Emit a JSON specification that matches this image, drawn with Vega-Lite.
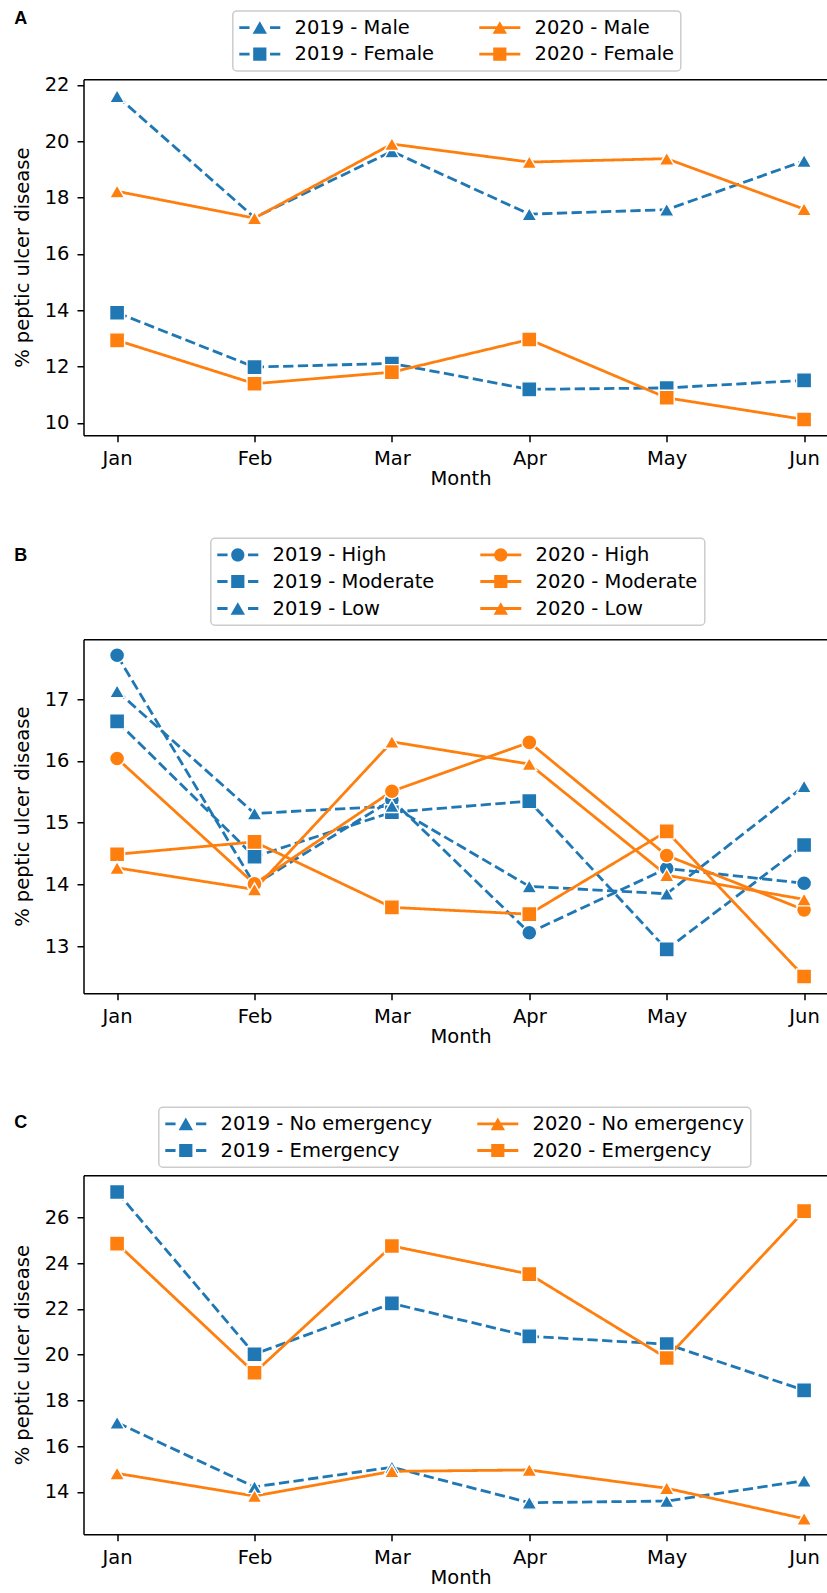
{
  "$schema": "https://vega.github.io/schema/vega-lite/v6.json",
  "padding": {"left": 12.5, "top": 9.25, "right": 0, "bottom": 2},
  "bounds": "flush",
  "spacing": 0,
  "resolve": {
    "scale": {"stroke": "independent", "fill": "independent", "shape": "independent", "strokeDash": "independent"},
    "legend": {"stroke": "independent", "fill": "independent", "shape": "independent", "strokeDash": "independent"}
  },
  "config": {
    "view": {"stroke": null},
    "font": "DejaVu Sans",
    "axis": {
      "labelFont": "DejaVu Sans", "labelFontSize": 19.5, "labelColor": "#000",
      "titleFont": "DejaVu Sans", "titleFontSize": 19.5, "titleColor": "#000", "titleFontWeight": "normal",
      "domainColor": "#000", "domainWidth": 1.5, "tickColor": "#000", "tickWidth": 1.5, "tickSize": 6.5,
      "grid": false
    },
    "legend": {
      "orient": "none", "title": null, "columns": 2,
      "labelFont": "DejaVu Sans", "labelFontSize": 19.5, "labelColor": "#000", "labelLimit": 0,
      "symbolSize": 361, "symbolOffset": 10.75, "labelOffset": 25, "columnPadding": 44, "rowPadding": 6, "padding": 6.5,
      "strokeColor": "#cccccc", "strokeWidth": 1.5, "cornerRadius": 4, "fillColor": "white",
      "symbolStrokeWidth": 0
    },
    "title": {"font": "Liberation Sans", "fontSize": 18, "fontWeight": "bold", "color": "#000"}
  },
  "vconcat": [
    {
      "width": 743, "height": 356,
      "title": {"text": "A", "anchor": "start", "frame": "group", "offset": -26.95, "dx": -69.2, "baseline": "middle"},
      "data": {"values": [
        {"month": "Jan", "series": "2019 - Male", "year": "2019", "group": "Male", "value": 21.60},
        {"month": "Feb", "series": "2019 - Male", "year": "2019", "group": "Male", "value": 17.29},
        {"month": "Mar", "series": "2019 - Male", "year": "2019", "group": "Male", "value": 19.64},
        {"month": "Apr", "series": "2019 - Male", "year": "2019", "group": "Male", "value": 17.41},
        {"month": "May", "series": "2019 - Male", "year": "2019", "group": "Male", "value": 17.57},
        {"month": "Jun", "series": "2019 - Male", "year": "2019", "group": "Male", "value": 19.30},
        {"month": "Jan", "series": "2019 - Female", "year": "2019", "group": "Female", "value": 13.91},
        {"month": "Feb", "series": "2019 - Female", "year": "2019", "group": "Female", "value": 11.98},
        {"month": "Mar", "series": "2019 - Female", "year": "2019", "group": "Female", "value": 12.11},
        {"month": "Apr", "series": "2019 - Female", "year": "2019", "group": "Female", "value": 11.19},
        {"month": "May", "series": "2019 - Female", "year": "2019", "group": "Female", "value": 11.24},
        {"month": "Jun", "series": "2019 - Female", "year": "2019", "group": "Female", "value": 11.51},
        {"month": "Jan", "series": "2020 - Male", "year": "2020", "group": "Male", "value": 18.22},
        {"month": "Feb", "series": "2020 - Male", "year": "2020", "group": "Male", "value": 17.27},
        {"month": "Mar", "series": "2020 - Male", "year": "2020", "group": "Male", "value": 19.90},
        {"month": "Apr", "series": "2020 - Male", "year": "2020", "group": "Male", "value": 19.26},
        {"month": "May", "series": "2020 - Male", "year": "2020", "group": "Male", "value": 19.38},
        {"month": "Jun", "series": "2020 - Male", "year": "2020", "group": "Male", "value": 17.59},
        {"month": "Jan", "series": "2020 - Female", "year": "2020", "group": "Female", "value": 12.93},
        {"month": "Feb", "series": "2020 - Female", "year": "2020", "group": "Female", "value": 11.39},
        {"month": "Mar", "series": "2020 - Female", "year": "2020", "group": "Female", "value": 11.80},
        {"month": "Apr", "series": "2020 - Female", "year": "2020", "group": "Female", "value": 12.96},
        {"month": "May", "series": "2020 - Female", "year": "2020", "group": "Female", "value": 10.89},
        {"month": "Jun", "series": "2020 - Female", "year": "2020", "group": "Female", "value": 10.12}
      ]},
      "encoding": {
        "y": {"field": "value", "type": "quantitative",
          "scale": {"domain": [9.56, 22.2], "nice": false, "zero": false},
          "axis": {"values": [10, 12, 14, 16, 18, 20, 22], "title": "% peptic ulcer disease", "labelPadding": 8, "titlePadding": 11.5}}
      },
      "layer": [
        {
          "mark": {"type": "line", "strokeWidth": 2.8, "strokeJoin": "round", "strokeCap": "butt"},
          "encoding": {
            "x": {"field": "month", "type": "ordinal", "sort": ["Jan", "Feb", "Mar", "Apr", "May", "Jun"],
              "scale": {"type": "point", "padding": 0.2038, "align": 0.6},
              "axis": {"orient": "bottom", "title": "Month", "labelAngle": 0, "labelPadding": 7.5, "titlePadding": 2, "titleX": 377}},
            "stroke": {"field": "series", "type": "nominal",
              "scale": {"domain": ["2019 - Male", "2019 - Female", "2020 - Male", "2020 - Female"], "range": ["#1f77b4", "#1f77b4", "#ff7f0e", "#ff7f0e"]},
              "legend": {"legendX": 149.3, "legendY": -68.3,
                "encode": {"symbols": {"update": {
                  "shape": {"signal": "(slice(datum.value,0,4)=='2019' ? 'M-2.158,-0.147H-1.079V0.147H-2.158ZM1.079,-0.147H2.158V0.147H1.079Z' : 'M-2.158,-0.147H2.158V0.147H-2.158Z') + (indexof(datum.value,'Female')>=0 ? 'M-0.695,-0.695H0.695V0.695H-0.695Z' : 'M0,-0.658L0.758,0.658L-0.758,0.658Z')"},
                  "fill": {"signal": "slice(datum.value,0,4)=='2019' ? '#1f77b4' : '#ff7f0e'"},
                  "stroke": {"value": "transparent"}, "strokeWidth": {"value": 0}, "opacity": {"value": 1}
                }}}}},
            "strokeDash": {"field": "year", "type": "nominal", "scale": {"domain": ["2019", "2020"], "range": [[10.3, 4.4], [1, 0]]}, "legend": null}
          }
        },
        {
          "mark": {"type": "point", "filled": true, "opacity": 1, "stroke": "white", "strokeWidth": 1.4, "size": 225},
          "encoding": {
            "x": {"field": "month", "type": "ordinal", "sort": ["Jan", "Feb", "Mar", "Apr", "May", "Jun"],
              "scale": {"type": "point", "padding": 0.2038, "align": 0.6},
              "axis": {"orient": "top", "labels": false, "ticks": false, "domain": true, "title": null}},
            "fill": {"field": "year", "type": "nominal",
              "scale": {"domain": ["2019", "2020"], "range": ["#1f77b4", "#ff7f0e"]}, "legend": null},
            "shape": {"field": "group", "type": "nominal",
              "scale": {"domain": ["Male", "Female"], "range": ["triangle-up", "square"]}, "legend": null}
          }
        }
      ],
      "resolve": {"axis": {"x": "independent"}}
    },
    {"width": 10, "height": 204, "data": {"values": [{}]}, "mark": {"type": "text", "text": ""}},
    {
      "width": 743, "height": 354,
      "title": {"text": "B", "anchor": "start", "frame": "group", "offset": -36.95, "dx": -69.2, "baseline": "middle"},
      "data": {"values": [
        {"month": "Jan", "series": "2019 - High", "year": "2019", "group": "High", "value": 17.71},
        {"month": "Feb", "series": "2019 - High", "year": "2019", "group": "High", "value": 14.00},
        {"month": "Mar", "series": "2019 - High", "year": "2019", "group": "High", "value": 15.37},
        {"month": "Apr", "series": "2019 - High", "year": "2019", "group": "High", "value": 13.22},
        {"month": "May", "series": "2019 - High", "year": "2019", "group": "High", "value": 14.26},
        {"month": "Jun", "series": "2019 - High", "year": "2019", "group": "High", "value": 14.02},
        {"month": "Jan", "series": "2019 - Moderate", "year": "2019", "group": "Moderate", "value": 16.64},
        {"month": "Feb", "series": "2019 - Moderate", "year": "2019", "group": "Moderate", "value": 14.45},
        {"month": "Mar", "series": "2019 - Moderate", "year": "2019", "group": "Moderate", "value": 15.17},
        {"month": "Apr", "series": "2019 - Moderate", "year": "2019", "group": "Moderate", "value": 15.35},
        {"month": "May", "series": "2019 - Moderate", "year": "2019", "group": "Moderate", "value": 12.95},
        {"month": "Jun", "series": "2019 - Moderate", "year": "2019", "group": "Moderate", "value": 14.64},
        {"month": "Jan", "series": "2019 - Low", "year": "2019", "group": "Low", "value": 17.13},
        {"month": "Feb", "series": "2019 - Low", "year": "2019", "group": "Low", "value": 15.15},
        {"month": "Mar", "series": "2019 - Low", "year": "2019", "group": "Low", "value": 15.27},
        {"month": "Apr", "series": "2019 - Low", "year": "2019", "group": "Low", "value": 13.97},
        {"month": "May", "series": "2019 - Low", "year": "2019", "group": "Low", "value": 13.85},
        {"month": "Jun", "series": "2019 - Low", "year": "2019", "group": "Low", "value": 15.59},
        {"month": "Jan", "series": "2020 - High", "year": "2020", "group": "High", "value": 16.04},
        {"month": "Feb", "series": "2020 - High", "year": "2020", "group": "High", "value": 14.01},
        {"month": "Mar", "series": "2020 - High", "year": "2020", "group": "High", "value": 15.51},
        {"month": "Apr", "series": "2020 - High", "year": "2020", "group": "High", "value": 16.30},
        {"month": "May", "series": "2020 - High", "year": "2020", "group": "High", "value": 14.47},
        {"month": "Jun", "series": "2020 - High", "year": "2020", "group": "High", "value": 13.59},
        {"month": "Jan", "series": "2020 - Moderate", "year": "2020", "group": "Moderate", "value": 14.49},
        {"month": "Feb", "series": "2020 - Moderate", "year": "2020", "group": "Moderate", "value": 14.69},
        {"month": "Mar", "series": "2020 - Moderate", "year": "2020", "group": "Moderate", "value": 13.63},
        {"month": "Apr", "series": "2020 - Moderate", "year": "2020", "group": "Moderate", "value": 13.52},
        {"month": "May", "series": "2020 - Moderate", "year": "2020", "group": "Moderate", "value": 14.86},
        {"month": "Jun", "series": "2020 - Moderate", "year": "2020", "group": "Moderate", "value": 12.51},
        {"month": "Jan", "series": "2020 - Low", "year": "2020", "group": "Low", "value": 14.27},
        {"month": "Feb", "series": "2020 - Low", "year": "2020", "group": "Low", "value": 13.92},
        {"month": "Mar", "series": "2020 - Low", "year": "2020", "group": "Low", "value": 16.31},
        {"month": "Apr", "series": "2020 - Low", "year": "2020", "group": "Low", "value": 15.95},
        {"month": "May", "series": "2020 - Low", "year": "2020", "group": "Low", "value": 14.15},
        {"month": "Jun", "series": "2020 - Low", "year": "2020", "group": "Low", "value": 13.76}
      ]},
      "encoding": {
        "y": {"field": "value", "type": "quantitative",
          "scale": {"domain": [12.24, 17.97], "nice": false, "zero": false},
          "axis": {"values": [13, 14, 15, 16, 17], "title": "% peptic ulcer disease", "labelPadding": 8, "titlePadding": 11.5}}
      },
      "layer": [
        {
          "mark": {"type": "line", "strokeWidth": 2.8, "strokeJoin": "round", "strokeCap": "butt"},
          "encoding": {
            "x": {"field": "month", "type": "ordinal", "sort": ["Jan", "Feb", "Mar", "Apr", "May", "Jun"],
              "scale": {"type": "point", "padding": 0.2038, "align": 0.6},
              "axis": {"orient": "bottom", "title": "Month", "labelAngle": 0, "labelPadding": 7.5, "titlePadding": 2, "titleX": 377}},
            "stroke": {"field": "series", "type": "nominal",
              "scale": {"domain": ["2019 - High", "2019 - Moderate", "2019 - Low", "2020 - High", "2020 - Moderate", "2020 - Low"], "range": ["#1f77b4", "#1f77b4", "#1f77b4", "#ff7f0e", "#ff7f0e", "#ff7f0e"]},
              "legend": {"legendX": 127.3, "legendY": -101,
                "encode": {"symbols": {"update": {
                  "shape": {"signal": "(slice(datum.value,0,4)=='2019' ? 'M-2.158,-0.147H-1.079V0.147H-2.158ZM1.079,-0.147H2.158V0.147H1.079Z' : 'M-2.158,-0.147H2.158V0.147H-2.158Z') + (indexof(datum.value,'High')>=0 ? 'M-0.695,0A0.695,0.695,0,1,1,0.695,0A0.695,0.695,0,1,1,-0.695,0Z' : indexof(datum.value,'Moderate')>=0 ? 'M-0.695,-0.695H0.695V0.695H-0.695Z' : 'M0,-0.658L0.758,0.658L-0.758,0.658Z')"},
                  "fill": {"signal": "slice(datum.value,0,4)=='2019' ? '#1f77b4' : '#ff7f0e'"},
                  "stroke": {"value": "transparent"}, "strokeWidth": {"value": 0}, "opacity": {"value": 1}
                }}}}},
            "strokeDash": {"field": "year", "type": "nominal", "scale": {"domain": ["2019", "2020"], "range": [[10.3, 4.4], [1, 0]]}, "legend": null}
          }
        },
        {
          "mark": {"type": "point", "filled": true, "opacity": 1, "stroke": "white", "strokeWidth": 1.4, "size": 225},
          "encoding": {
            "x": {"field": "month", "type": "ordinal", "sort": ["Jan", "Feb", "Mar", "Apr", "May", "Jun"],
              "scale": {"type": "point", "padding": 0.2038, "align": 0.6},
              "axis": {"orient": "top", "labels": false, "ticks": false, "domain": true, "title": null}},
            "fill": {"field": "year", "type": "nominal",
              "scale": {"domain": ["2019", "2020"], "range": ["#1f77b4", "#ff7f0e"]}, "legend": null},
            "shape": {"field": "group", "type": "nominal",
              "scale": {"domain": ["High", "Moderate", "Low"], "range": ["circle", "square", "triangle-up"]}, "legend": null}
          }
        }
      ],
      "resolve": {"axis": {"x": "independent"}}
    },
    {"width": 10, "height": 181.7, "data": {"values": [{}]}, "mark": {"type": "text", "text": ""}},
    {
      "width": 743, "height": 359,
      "title": {"text": "C", "anchor": "start", "frame": "group", "offset": -34.75, "dx": -69.2, "baseline": "middle"},
      "data": {"values": [
        {"month": "Jan", "series": "2019 - No emergency", "year": "2019", "group": "No emergency", "value": 17.03},
        {"month": "Feb", "series": "2019 - No emergency", "year": "2019", "group": "No emergency", "value": 14.22},
        {"month": "Mar", "series": "2019 - No emergency", "year": "2019", "group": "No emergency", "value": 15.08},
        {"month": "Apr", "series": "2019 - No emergency", "year": "2019", "group": "No emergency", "value": 13.53},
        {"month": "May", "series": "2019 - No emergency", "year": "2019", "group": "No emergency", "value": 13.60},
        {"month": "Jun", "series": "2019 - No emergency", "year": "2019", "group": "No emergency", "value": 14.49},
        {"month": "Jan", "series": "2019 - Emergency", "year": "2019", "group": "Emergency", "value": 27.11},
        {"month": "Feb", "series": "2019 - Emergency", "year": "2019", "group": "Emergency", "value": 20.02},
        {"month": "Mar", "series": "2019 - Emergency", "year": "2019", "group": "Emergency", "value": 22.24},
        {"month": "Apr", "series": "2019 - Emergency", "year": "2019", "group": "Emergency", "value": 20.80},
        {"month": "May", "series": "2019 - Emergency", "year": "2019", "group": "Emergency", "value": 20.46},
        {"month": "Jun", "series": "2019 - Emergency", "year": "2019", "group": "Emergency", "value": 18.44},
        {"month": "Jan", "series": "2020 - No emergency", "year": "2020", "group": "No emergency", "value": 14.81},
        {"month": "Feb", "series": "2020 - No emergency", "year": "2020", "group": "No emergency", "value": 13.82},
        {"month": "Mar", "series": "2020 - No emergency", "year": "2020", "group": "No emergency", "value": 14.90},
        {"month": "Apr", "series": "2020 - No emergency", "year": "2020", "group": "No emergency", "value": 14.96},
        {"month": "May", "series": "2020 - No emergency", "year": "2020", "group": "No emergency", "value": 14.16},
        {"month": "Jun", "series": "2020 - No emergency", "year": "2020", "group": "No emergency", "value": 12.83},
        {"month": "Jan", "series": "2020 - Emergency", "year": "2020", "group": "Emergency", "value": 24.85},
        {"month": "Feb", "series": "2020 - Emergency", "year": "2020", "group": "Emergency", "value": 19.21},
        {"month": "Mar", "series": "2020 - Emergency", "year": "2020", "group": "Emergency", "value": 24.75},
        {"month": "Apr", "series": "2020 - Emergency", "year": "2020", "group": "Emergency", "value": 23.52},
        {"month": "May", "series": "2020 - Emergency", "year": "2020", "group": "Emergency", "value": 19.85},
        {"month": "Jun", "series": "2020 - Emergency", "year": "2020", "group": "Emergency", "value": 26.27}
      ]},
      "encoding": {
        "y": {"field": "value", "type": "quantitative",
          "scale": {"domain": [12.15, 27.84], "nice": false, "zero": false},
          "axis": {"values": [14, 16, 18, 20, 22, 24, 26], "title": "% peptic ulcer disease", "labelPadding": 8, "titlePadding": 11.5}}
      },
      "layer": [
        {
          "mark": {"type": "line", "strokeWidth": 2.8, "strokeJoin": "round", "strokeCap": "butt"},
          "encoding": {
            "x": {"field": "month", "type": "ordinal", "sort": ["Jan", "Feb", "Mar", "Apr", "May", "Jun"],
              "scale": {"type": "point", "padding": 0.2038, "align": 0.6},
              "axis": {"orient": "bottom", "title": "Month", "labelAngle": 0, "labelPadding": 7.5, "titlePadding": 2, "titleX": 377}},
            "stroke": {"field": "series", "type": "nominal",
              "scale": {"domain": ["2019 - No emergency", "2019 - Emergency", "2020 - No emergency", "2020 - Emergency"], "range": ["#1f77b4", "#1f77b4", "#ff7f0e", "#ff7f0e"]},
              "legend": {"legendX": 75.3, "legendY": -68,
                "encode": {"symbols": {"update": {
                  "shape": {"signal": "(slice(datum.value,0,4)=='2019' ? 'M-2.158,-0.147H-1.079V0.147H-2.158ZM1.079,-0.147H2.158V0.147H1.079Z' : 'M-2.158,-0.147H2.158V0.147H-2.158Z') + (indexof(datum.value,'No emergency')>=0 ? 'M0,-0.658L0.758,0.658L-0.758,0.658Z' : 'M-0.695,-0.695H0.695V0.695H-0.695Z')"},
                  "fill": {"signal": "slice(datum.value,0,4)=='2019' ? '#1f77b4' : '#ff7f0e'"},
                  "stroke": {"value": "transparent"}, "strokeWidth": {"value": 0}, "opacity": {"value": 1}
                }}}}},
            "strokeDash": {"field": "year", "type": "nominal", "scale": {"domain": ["2019", "2020"], "range": [[10.3, 4.4], [1, 0]]}, "legend": null}
          }
        },
        {
          "mark": {"type": "point", "filled": true, "opacity": 1, "stroke": "white", "strokeWidth": 1.4, "size": 225},
          "encoding": {
            "x": {"field": "month", "type": "ordinal", "sort": ["Jan", "Feb", "Mar", "Apr", "May", "Jun"],
              "scale": {"type": "point", "padding": 0.2038, "align": 0.6},
              "axis": {"orient": "top", "labels": false, "ticks": false, "domain": true, "title": null}},
            "fill": {"field": "year", "type": "nominal",
              "scale": {"domain": ["2019", "2020"], "range": ["#1f77b4", "#ff7f0e"]}, "legend": null},
            "shape": {"field": "group", "type": "nominal",
              "scale": {"domain": ["No emergency", "Emergency"], "range": ["triangle-up", "square"]}, "legend": null}
          }
        }
      ],
      "resolve": {"axis": {"x": "independent"}}
    }
  ]
}
